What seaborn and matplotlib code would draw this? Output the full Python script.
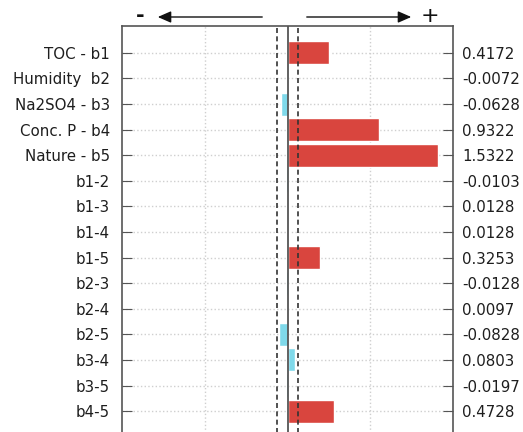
import matplotlib
matplotlib.use("Agg")
import matplotlib.pyplot as plt
import seaborn as sns
import pandas as pd

terms = ["TOC - b1", "Humidity  b2", "Na2SO4 - b3", "Conc. P - b4", "Nature - b5",
         "b1-2", "b1-3", "b1-4", "b1-5", "b2-3", "b2-4", "b2-5", "b3-4", "b3-5", "b4-5"]
effects = [0.4172, -0.0072, -0.0628, 0.9322, 1.5322, -0.0103, 0.0128, 0.0128,
           0.3253, -0.0128, 0.0097, -0.0828, 0.0803, -0.0197, 0.4728]
threshold = 0.11
value_labels = ["0.4172", "-0.0072", "-0.0628", "0.9322", "1.5322", "-0.0103", "0.0128",
                "0.0128", "0.3253", "-0.0128", "0.0097", "-0.0828", "0.0803", "-0.0197", "0.4728"]

df = pd.DataFrame({"term": terms, "effect": effects})
df["sig"] = ["yes" if abs(v) > threshold else "no" for v in effects]

sns.set_style("white")
plt.rcParams["font.family"] = ["DejaVu Sans"]

fig = plt.figure(figsize=(5.23, 4.32), dpi=100)
ax = fig.add_axes([122/523, (432-438)/432, (453-122)/523, (438-26)/432])

sns.barplot(data=df, x="effect", y="term", hue="sig", orient="h",
            palette={"yes": "#d9453e", "no": "#7fd9ea"}, dodge=False,
            width=0.9, legend=False, ax=ax, order=terms, saturation=1)

ax.set_xlim(-1.68, 1.68)
ax.set_ylim(len(terms) - 1 + 1.05, -1.05)
ax.set_xticks([-0.84, 0.84])
ax.set_xticklabels([])
ax.tick_params(axis="x", length=0)
ax.grid(True, axis="both", linestyle=":", color="#cfcfcf", linewidth=1)
ax.set_axisbelow(True)
ax.axvline(0, color="#555555", linewidth=1.3, zorder=3)
ax.axvline(-threshold, color="#333333", linewidth=1.2, linestyle=(0, (3, 2)), zorder=3)
ax.axvline(threshold, color="#333333", linewidth=1.2, linestyle=(0, (3, 2)), zorder=3)
ax.set_xlabel("")
ax.set_ylabel("")
for s in ax.spines.values():
    s.set_color("#555555")
    s.set_linewidth(1.2)
ax.tick_params(axis="y", direction="in", length=7, color="#555555",
               labelsize=10.8, labelcolor="#1e1e1e", pad=8.5)

ax2 = ax.twinx()
ax2.set_ylim(ax.get_ylim())
ax2.set_yticks(range(len(terms)))
ax2.set_yticklabels(value_labels)
ax2.tick_params(axis="y", direction="in", length=7, color="#555555",
                labelsize=10.8, labelcolor="#1e1e1e", pad=6.5)
for s in ax2.spines.values():
    s.set_visible(False)

# direction arrows above the plot
fig.text(140/523, 1 - 16/432, "-", fontsize=15, fontweight="bold", ha="center", va="center", color="#111111")
fig.text(430/523, 1 - 16/432, "+", fontsize=16, ha="center", va="center", color="#111111")
fig.add_artist(matplotlib.patches.FancyArrowPatch(
    (265/523, 1 - 17/432), (155/523, 1 - 17/432), transform=fig.transFigure,
    arrowstyle="-|>,head_length=8,head_width=3.5", color="#111111", linewidth=1))
fig.add_artist(matplotlib.patches.FancyArrowPatch(
    (304/523, 1 - 17/432), (414/523, 1 - 17/432), transform=fig.transFigure,
    arrowstyle="-|>,head_length=8,head_width=3.5", color="#111111", linewidth=1))

fig.savefig("out.png", dpi=100)
